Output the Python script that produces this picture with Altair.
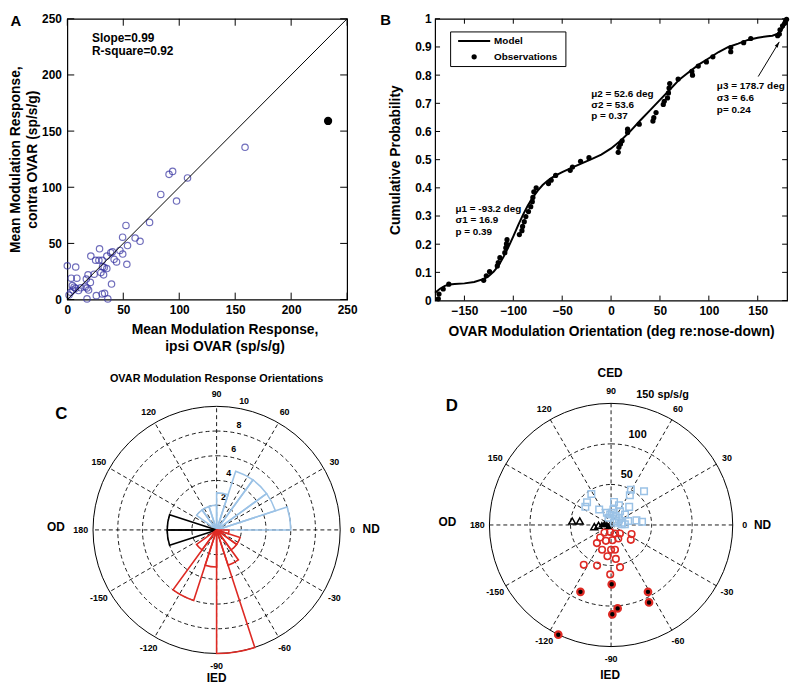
import math
import altair as alt
import pandas as pd

FONT = "Liberation Sans"
BLUE_A = "#3431A0"
LIGHT = "#9BC2E6"
RED = "#DE2A24"

# ---------------- Panel A : ipsi vs contra modulation ----------------
a_ipsi = [0, 7.5, 3.5, 8.5, 4.5, 6, 7.5, 5, 3, 1.5, 10, 12, 16, 17.6, 19, 17, 18.5, 20.6, 17.6, 21,
          24, 25.3, 28.2, 31.2, 25.9, 28.8, 31.5, 30, 32.4, 33, 35.3, 31.2, 33.3, 36.2, 39.5, 35.3, 38.8,
          40.3, 41.8, 44, 47, 49.4, 53.2, 52.4, 53.8, 60.6, 65, 73.5, 83.5, 90.9, 94.1, 97.6, 107.4, 158.8, 49.5]
a_contra = [30, 29, 19, 19, 12.5, 11, 10, 8.5, 6.5, 4, 8, 10.5, 11.4, 10.3, 8.5, 18.2, 22, 15.3, 0.6, 38.7,
            22.6, 35, 35, 35, 3.5, 45.2, 29.3, 24, 22, 28.5, 27.6, 5, 5.6, 0.6, 13.8, 38.7, 41.7,
            42.5, 35.8, 33.5, 43.7, 55.5, 31.4, 66, 48.1, 54.8, 51.9, 68.7, 93.6, 111.5, 114.1, 87.7, 108.3, 135.6, 40.5]
a_out_ipsi = [233]
a_out_contra = [159]
a_fit_ipsi = [0, 250]
a_fit_contra = [0, 250]
a_ticks = [0, 50, 100, 150, 200, 250]

# ---------------- Panel B : cumulative distribution ----------------
b_model_deg = [-180, -175, -170, -165, -160, -150, -140, -130, -125, -120, -115, -110, -105, -100, -95, -90,
               -85, -80, -75, -70, -65, -60, -55, -50, -40, -30, -20, -10, 0, 10, 20, 30, 40, 50, 60, 70,
               80, 90, 100, 110, 120, 130, 140, 150, 160, 165, 170, 174, 177, 180]
b_model_p = [0.028, 0.042, 0.052, 0.057, 0.059, 0.061, 0.066, 0.077, 0.087, 0.103, 0.125, 0.155, 0.19, 0.228,
             0.268, 0.305, 0.338, 0.366, 0.39, 0.41, 0.425, 0.437, 0.447, 0.456, 0.472, 0.487, 0.502, 0.518,
             0.54, 0.568, 0.602, 0.64, 0.676, 0.712, 0.748, 0.785, 0.812, 0.838, 0.86, 0.882, 0.9, 0.912,
             0.925, 0.933, 0.938, 0.94, 0.946, 0.958, 0.975, 0.998]
b_obs_deg = [-176.7, -176, -171.7, -166, -130.3, -127.6, -124.3, -116.4, -115.4, -113.7,
             -108.7, -107.7, -107, -106.4, -93.8, -91.2, -90.5, -88.8, -87.2, -84.5,
             -82.2, -80.6, -80, -79, -76.6, -64, -61.3, -56.7, -41.8, -39.5,
             -31.2, -22.6, 7.3, 8, 9.6, 11.3, 16.9, 16.9, 28.8, 42.8,
             43.7, 46, 53.4, 54.4, 57.7, 58.7, 59.3, 60, 68.6, 83.3,
             82.6, 89.2, 97.5, 104.1, 122.4, 122.4, 135.6, 142.9, 170.4, 172.1,
             172.8, 175.4, 177.5, 178.5, 179.5]
b_obs_p = [0.006, 0.023, 0.041, 0.058, 0.072, 0.088, 0.103, 0.123, 0.135, 0.152,
           0.17, 0.187, 0.201, 0.216, 0.234, 0.248, 0.263, 0.28, 0.298, 0.316,
           0.333, 0.351, 0.366, 0.386, 0.4, 0.415, 0.427, 0.444, 0.462, 0.474,
           0.494, 0.507, 0.526, 0.544, 0.556, 0.567, 0.596, 0.608, 0.626, 0.637,
           0.649, 0.667, 0.696, 0.707, 0.719, 0.737, 0.754, 0.77, 0.786, 0.8,
           0.813, 0.832, 0.847, 0.865, 0.883, 0.898, 0.915, 0.93, 0.94, 0.946,
           0.961, 0.975, 0.984, 0.992, 0.998]
b_xticks = [-150, -100, -50, 0, 50, 100, 150]
b_yticks = [0, 0.1, 0.2, 0.3, 0.4, 0.5, 0.6, 0.7, 0.8, 0.9, 1]
b_arrow_deg = [150.5, 172]
b_arrow_p = [0.795, 0.918]

# ---------------- Panel C : rose histogram ----------------
c_bin_start = [0, 18, 36, 54, 72, 90, 108, 126, 162, 180, 216, 234, 252, 270, 288, 306, 324, 342]
c_bin_width = 18
c_bin_count = [6, 5, 5, 5, 3, 2, 2, 2, 4, 4, 2, 6, 3, 10, 3, 2, 2, 1]
c_bin_group = ["CED"] * 8 + ["OD"] * 2 + ["IED"] * 8
c_rings = [2, 4, 6, 8]
c_rmax = 10

polar_angles = [0, 30, 60, 90, 120, 150, 180, 210, 240, 270, 300, 330]
polar_labels = ["0", "30", "60", "90", "120", "150", "180", "-150", "-120", "-90", "-60", "-30"]

# ---------------- Panel D : polar scatter (angle deg, magnitude sp/s/g) ----------------
d_sq_ang = [122.5, 136.6, 144.8, 127.5, 82.7, 68.2, 60.7, 57.7, 45.6, 45, 57, 109, 87, 62.6, 110, 35,
            11.6, 38, 10.3, 6, 35, 37, 95, 81.5, 3.6, 13, 2.7]
d_sq_mag = [45.3, 40.8, 38.8, 24.1, 28.7, 26.3, 49.9, 43.3, 58.1, 31.6, 20.3, 15.9, 15.1, 12.4, 9.5, 12,
            14.1, 4.6, 31.8, 38.4, 8.5, 21.5, 13, 19.3, 13, 21.7, 17]
d_tri_open_ang = [174.2, 172.8, -174.4, -178.5]
d_tri_open_mag = [48.2, 38.9, 20.8, 15.5]
d_tri_fill_ang = [176, 166, 171, -159]
d_tri_fill_mag = [11.4, 8.4, 5.3, 3.5]
d_circ_ang = [-131, -98, -65, -44, -24, -37, -128, -131, -108, -85, -62, -110, -90, -81, -96.6, -82,
              -124.4, -109, -78, -91]
d_circ_mag = [12.4, 8.6, 11.6, 15.2, 27.7, 30.5, 28.4, 20.5, 20.6, 18.8, 18.9, 32.5, 30.5, 30.9, 38.9,
              42.3, 59.6, 53, 53.2, 61]
d_dot_ang = [-114.6, -89.4, -61.1, -63.9, -85.5, -89.2, -115.7]
d_dot_mag = [90.7, 73.2, 94.2, 106.4, 103.2, 110.2, 150.2]
d_rings = [50, 100]
d_rmax = 150


def axis_style(**kw):
    base = dict(grid=False, ticks=False, domain=False, labelFlush=False, labelFont=FONT, labelFontSize=12,
                labelFontWeight="bold", labelColor="black", titleFont=FONT, titleFontSize=14,
                titleFontWeight="bold", titleColor="black")
    base.update(kw)
    return alt.Axis(**base)


def label(text, x, y, size, weight="bold", align="center", baseline="middle"):
    return alt.Chart(pd.DataFrame({"t": [text]})).mark_text(
        font=FONT, fontSize=size, fontWeight=weight, align=align, baseline=baseline, color="black"
    ).encode(text="t:N", x=alt.value(x), y=alt.value(y))


def inward_ticks(values, field, scale, axis, channel, W, H, L):
    base = alt.Chart(pd.DataFrame({field: values})).mark_rule(color="black", strokeWidth=1)
    if channel == "x":
        enc = alt.X(f"{field}:Q", scale=scale, axis=axis)
        return [base.encode(x=enc, y=alt.value(H), y2=alt.value(H - L)),
                base.encode(x=enc, y=alt.value(0), y2=alt.value(L))]
    enc = alt.Y(f"{field}:Q", scale=scale, axis=axis)
    return [base.encode(y=enc, x=alt.value(0), x2=alt.value(L)),
            base.encode(y=enc, x=alt.value(W), x2=alt.value(W - L))]


# ======================= Panel A =======================
WA, HA = 283, 284
sA = alt.Scale(domain=[0, 250], nice=False, zero=False)
xA = axis_style(values=a_ticks, title=["Mean Modulation Response,", "ipsi OVAR (sp/s/g)"],
                labelPadding=5, titlePadding=7, titleLineHeight=18, titleX=159)
yA = axis_style(values=a_ticks, title=["Mean Modulation Response,", "contra OVAR (sp/s/g)"],
                labelPadding=6, titlePadding=2, titleLineHeight=17)

ptsA = alt.Chart(pd.DataFrame({"ipsi": a_ipsi, "contra": a_contra})).mark_point(
    shape="circle", filled=False, color=BLUE_A, size=42, strokeWidth=1.2
).encode(x=alt.X("ipsi:Q", scale=sA, axis=xA), y=alt.Y("contra:Q", scale=sA, axis=yA))
fitA = alt.Chart(pd.DataFrame({"ipsi": a_fit_ipsi, "contra": a_fit_contra})).mark_line(
    color="black", strokeWidth=1
).encode(x=alt.X("ipsi:Q", scale=sA, axis=xA), y=alt.Y("contra:Q", scale=sA, axis=yA))
outA = alt.Chart(pd.DataFrame({"ipsi": a_out_ipsi, "contra": a_out_contra})).mark_circle(
    color="black", size=70, opacity=1
).encode(x=alt.X("ipsi:Q", scale=sA, axis=xA), y=alt.Y("contra:Q", scale=sA, axis=yA))
ticksA = (inward_ticks(a_ticks, "ipsi", sA, xA, "x", WA, HA, 7)
          + inward_ticks(a_ticks, "contra", sA, yA, "y", WA, HA, 7))

A = alt.layer(
    ptsA, fitA, outA, *ticksA,
    label("Slope=0.99", 25, 19.5, 12, align="left"),
    label("R-square=0.92", 25, 32.5, 12, align="left"),
    label("A", -52, 2, 15),
).properties(width=WA, height=HA)

# ======================= Panel B =======================
WB, HB = 356, 285
sBx = alt.Scale(domain=[-180, 180], nice=False, zero=False)
sBy = alt.Scale(domain=[0, 1], nice=False, zero=False)
xB = axis_style(values=b_xticks, title="OVAR Modulation Orientation (deg re:nose-down)",
                labelPadding=5, titlePadding=8)
yB = axis_style(values=b_yticks, format="~g", title="Cumulative Probability",
                labelPadding=4, titlePadding=12)

modelB = alt.Chart(pd.DataFrame({"deg": b_model_deg, "p": b_model_p})).mark_line(
    color="black", strokeWidth=2
).encode(x=alt.X("deg:Q", scale=sBx, axis=xB), y=alt.Y("p:Q", scale=sBy, axis=yB))
obsB = alt.Chart(pd.DataFrame({"deg": b_obs_deg, "p": b_obs_p})).mark_circle(
    color="black", size=28, opacity=1
).encode(x=alt.X("deg:Q", scale=sBx, axis=xB), y=alt.Y("p:Q", scale=sBy, axis=yB))
arrowDf = pd.DataFrame({"deg": b_arrow_deg, "p": b_arrow_p})
arrowLine = alt.Chart(arrowDf).mark_line(color="black", strokeWidth=1).encode(
    x=alt.X("deg:Q", scale=sBx, axis=xB), y=alt.Y("p:Q", scale=sBy, axis=yB))
arrowHead = alt.Chart(arrowDf.tail(1)).mark_point(
    shape="M0,0L-0.45,1.5L0.45,1.5Z", filled=True, color="black", size=60, angle=32, opacity=1
).encode(x=alt.X("deg:Q", scale=sBx, axis=xB), y=alt.Y("p:Q", scale=sBy, axis=yB))
ticksB = (inward_ticks(b_xticks, "deg", sBx, xB, "x", WB, HB, 5)
          + inward_ticks(b_yticks, "p", sBy, yB, "y", WB, HB, 5))

one = pd.DataFrame({"k": [0]})
legBox = alt.Chart(one).mark_rect(fill="white", stroke="black", strokeWidth=1).encode(
    x=alt.value(15.7), x2=alt.value(132.3), y=alt.value(13.3), y2=alt.value(48.3))
legLine = alt.Chart(one).mark_rule(color="black", strokeWidth=2).encode(
    x=alt.value(23.3), x2=alt.value(55.7), y=alt.value(22.5))
legDot = alt.Chart(one).mark_circle(color="black", size=28, opacity=1).encode(
    x=alt.value(39.5), y=alt.value(38.5))

B = alt.layer(
    modelB, obsB, *ticksB, arrowLine, arrowHead, legBox, legLine, legDot,
    label("Model", 59.7, 23, 10, align="left"),
    label("Observations", 59.7, 38.5, 10, align="left"),
    label("\u03bc1 = -93.2 deg", 20.7, 192.3, 10, align="left"),
    label("\u03c31 = 16.9", 20.7, 204, 10, align="left"),
    label("p = 0.39", 20.7, 215.5, 10, align="left"),
    label("\u03bc2 = 52.6 deg", 158, 75.7, 10, align="left"),
    label("\u03c32 = 53.6", 158, 87, 10, align="left"),
    label("p = 0.37", 158, 98.5, 10, align="left"),
    label("\u03bc3 = 178.7 deg", 285, 68.5, 10, align="left"),
    label("\u03c33 = 6.6", 285, 80.5, 10, align="left"),
    label("p= 0.24", 285, 92.3, 10, align="left"),
    label("B", -50, 1, 15),
).properties(width=WB, height=HB)

# ======================= Bottom row: C and D share one plot area =======================
# page-pixel geometry of the shared plot area and of the two polar centres
GX0, GX1, GY0, GY1 = 66, 792, 365, 680
WBOT, HBOT = GX1 - GX0, GY1 - GY0
C_CX, C_CY, C_PPU = 217, 532, 12.5      # px per count
D_CX, D_CY, D_PPU = 616, 527, 0.82      # px per sp/s/g


def polar_scales(cx, cy, ppu):
    sx = alt.Scale(domain=[(GX0 - cx) / ppu, (GX1 - cx) / ppu], nice=False, zero=False)
    sy = alt.Scale(domain=[(cy - GY1) / ppu, (cy - GY0) / ppu], nice=False, zero=False)
    return sx, sy


sTheta = alt.Scale(type="linear", domain=[90, -270], range=[0, 2 * math.pi])


def polar_grid(rings, rmax, ppu, sx, sy, lab_off, lab_ang, lab_size, lab_align, unit=""):
    sR = alt.Scale(type="linear", domain=[0, rmax], range=[0, rmax * ppu], nice=False, zero=True)
    cx = alt.XDatum(0, type="quantitative", scale=sx, axis=None)
    cy = alt.YDatum(0, type="quantitative", scale=sy, axis=None)
    ringsL = alt.Chart(pd.DataFrame({"r": rings})).mark_arc(
        filled=False, color="black", strokeWidth=0.9, strokeDash=[4, 3], theta=0, theta2=2 * math.pi
    ).encode(x=cx, y=cy, radius=alt.Radius("r:Q", scale=sR, stack=False))
    outer = alt.Chart(pd.DataFrame({"r": [rmax]})).mark_arc(
        filled=False, color="black", strokeWidth=1, theta=0, theta2=2 * math.pi
    ).encode(x=cx, y=cy, radius=alt.Radius("r:Q", scale=sR, stack=False))
    spokes = alt.Chart(pd.DataFrame({"a": polar_angles, "r": rmax})).transform_calculate(
        x0="0", y0="0",
        x1="datum.r * cos(datum.a * PI / 180)", y1="datum.r * sin(datum.a * PI / 180)"
    ).mark_rule(color="black", strokeWidth=0.9, strokeDash=[4, 3]).encode(
        x=alt.X("x0:Q", scale=sx, axis=None), y=alt.Y("y0:Q", scale=sy, axis=None),
        x2="x1:Q", y2="y1:Q")
    angLab = alt.Chart(pd.DataFrame({"a": polar_angles, "lab": polar_labels, "r": rmax})).transform_calculate(
        px="datum.r * 1.1 * cos(datum.a * PI / 180)", py="datum.r * 1.1 * sin(datum.a * PI / 180)"
    ).mark_text(font=FONT, fontSize=9, fontWeight="bold", color="black").encode(
        x=alt.X("px:Q", scale=sx, axis=None), y=alt.Y("py:Q", scale=sy, axis=None), text="lab:N")
    ringLab = alt.Chart(pd.DataFrame({"r": rings + [rmax]})).transform_calculate(
        px=f"(datum.r + {lab_off}) * cos({lab_ang} * PI / 180)",
        py=f"(datum.r + {lab_off}) * sin({lab_ang} * PI / 180)",
        lab=f"datum.r == {rmax} ? datum.r + '{unit}' : '' + datum.r"
    ).mark_text(font=FONT, fontSize=lab_size, fontWeight="bold", color="black", align=lab_align).encode(
        x=alt.X("px:Q", scale=sx, axis=None), y=alt.Y("py:Q", scale=sy, axis=None), text="lab:N")
    return sR, [ringsL, outer, spokes, angLab, ringLab]


# ---- Panel C ----
sCx, sCy = polar_scales(C_CX, C_CY, C_PPU)
sRC, gridC = polar_grid(c_rings, c_rmax, C_PPU, sCx, sCy, 0.7, 78, 9, "center")
rose = alt.Chart(pd.DataFrame({"start": c_bin_start, "count": c_bin_count, "grp": c_bin_group})).transform_calculate(
    end=f"datum.start + {c_bin_width}"
).mark_arc(filled=False, strokeWidth=1.6).encode(
    x=alt.XDatum(0, type="quantitative", scale=sCx, axis=None),
    y=alt.YDatum(0, type="quantitative", scale=sCy, axis=None),
    theta=alt.Theta("start:Q", scale=sTheta, stack=False), theta2="end:Q",
    radius=alt.Radius("count:Q", scale=sRC, stack=False),
    color=alt.Color("grp:N", scale=alt.Scale(domain=["CED", "OD", "IED"], range=[LIGHT, "black", RED]),
                    legend=None))

# ---- Panel D ----
sDx, sDy = polar_scales(D_CX, D_CY, D_PPU)
sRD, gridD = polar_grid(d_rings, d_rmax, D_PPU, sDx, sDy, 13, 79, 11, "left", " sp/s/g")


def polar_points(ang, mag, **mark):
    return alt.Chart(pd.DataFrame({"ang": ang, "mag": mag})).transform_calculate(
        px="datum.mag * cos(datum.ang * PI / 180)", py="datum.mag * sin(datum.ang * PI / 180)"
    ).mark_point(opacity=1, **mark).encode(
        x=alt.X("px:Q", scale=sDx, axis=None), y=alt.Y("py:Q", scale=sDy, axis=None))


def bl(text, px, py, size, **kw):
    # label placed at page-pixel position, converted to bottom plot-area pixels
    return label(text, px - GX0, py - GY0, size, **kw)


bottom = alt.layer(
    *gridC, rose,
    bl("OVAR Modulation Response Orientations", 217, 379, 11),
    bl("C", 60, 415, 17),
    bl("OD", 54.5, 528.7, 12),
    bl("ND", 373.3, 530.7, 12),
    bl("IED", 217, 682, 12),
    *gridD,
    polar_points(d_sq_ang, d_sq_mag, shape="square", filled=False, color=LIGHT, size=44, strokeWidth=1.5),
    polar_points(d_circ_ang, d_circ_mag, shape="circle", filled=False, color=RED, size=44, strokeWidth=1.6),
    polar_points(d_dot_ang, d_dot_mag, shape="circle", filled=True, fill="black", stroke=RED,
                 size=44, strokeWidth=2.2),
    polar_points(d_tri_open_ang, d_tri_open_mag, shape="triangle-up", filled=False, color="black",
                 size=50, strokeWidth=1.5),
    polar_points(d_tri_fill_ang, d_tri_fill_mag, shape="triangle-up", filled=True, color="black", size=50),
    bl("CED", 615, 373.3, 12),
    bl("D", 455, 407.2, 17),
    bl("OD", 450.5, 524.2, 12),
    bl("ND", 769.2, 527.2, 12),
    bl("IED", 615, 679, 12),
).resolve_scale(
    x="independent", y="independent", radius="independent", theta="independent", color="independent"
).properties(width=WBOT, height=HBOT, view={"stroke": "transparent"})

top = alt.hconcat(A, B, spacing=21)
chart = alt.vconcat(top, bottom, spacing=9).properties(
    padding={"left": 0, "top": 0, "right": 0, "bottom": 0}
).configure(font=FONT).configure_view(stroke="black", strokeWidth=1.2)

chart.save("out.html", embed_options={"renderer": "svg", "actions": False})
